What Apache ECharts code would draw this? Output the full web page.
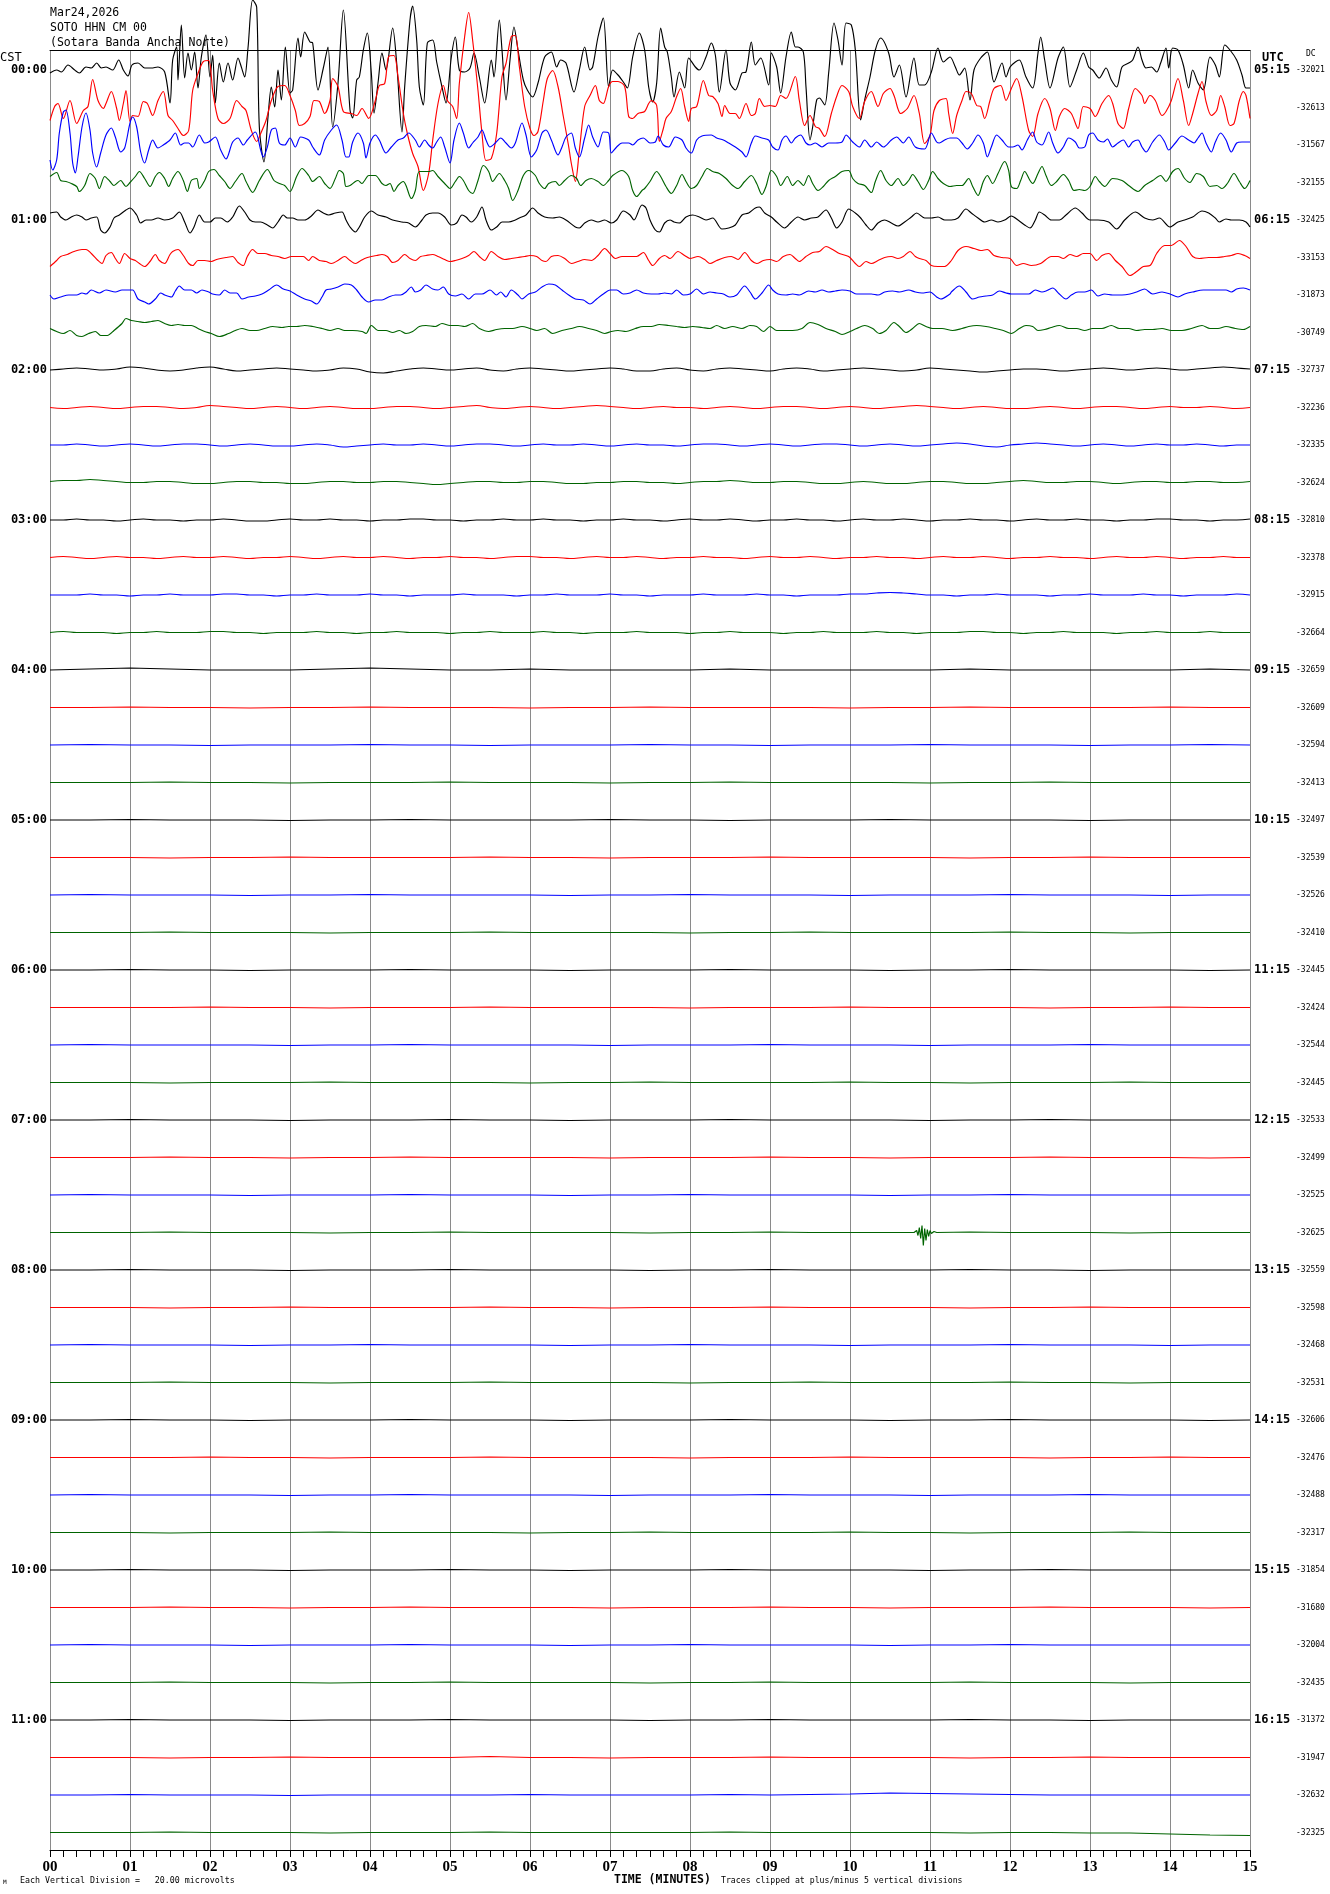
<!DOCTYPE html>
<html><head><meta charset="utf-8">
<script src="https://cdn.jsdelivr.net/npm/echarts@6/dist/echarts.min.js"></script>
<style>html,body{margin:0;padding:0;background:#fff;}#c{width:1330px;height:1894px;}</style>
</head><body><div id="c"></div><script>
// ---------------- DATA ----------------
const STATION_DATE = "Mar24,2026";
const STATION_CODE = "SOTO HHN CM 00";
const STATION_NAME = "(Sotara Banda Ancha Norte)";
const CST_LABELS = ["00:00","01:00","02:00","03:00","04:00","05:00","06:00","07:00","08:00","09:00","10:00","11:00"];
const UTC_LABELS = ["05:15","06:15","07:15","08:15","09:15","10:15","11:15","12:15","13:15","14:15","15:15","16:15"];
const MINUTE_LABELS = ["00","01","02","03","04","05","06","07","08","09","10","11","12","13","14","15"];
const DC_VALUES = [-32021,-32613,-31567,-32155,-32425,-33153,-31873,-30749,-32737,-32236,-32335,-32624,
  -32810,-32378,-32915,-32664,-32659,-32609,-32594,-32413,-32497,-32539,-32526,-32410,
  -32445,-32424,-32544,-32445,-32533,-32499,-32525,-32625,-32559,-32598,-32468,-32531,
  -32606,-32476,-32488,-32317,-31854,-31680,-32004,-32435,-31372,-31947,-32632,-32325];

// Active rows: flat [second, amplitude, second, amplitude, ...]; amplitude positive = up
const row00 = [0,-3,5,0,8.5,-2,13.5,5,18.5,0,22,-3,27,3,31,2,35,7,38.5,2,42,3,47,0,51.5,10,55,0,58.5,-6,61.5,5,66,7,71,2,76,2,81,3,86,-2,90,-33,92,10,95,23,96,-10,98.5,45,101,-8,103.5,17,106,0,108.5,18,111,-18,113.5,13,117,35,120,-7,122,15,124,-33,127,7,130,-12,133.5,7,137,-10,141,12,143.5,3,146,-7,148.5,22,152,70,155,63,157,-57,160.5,-92,163.5,-47,166,-17,168.5,-37,171,0,173.5,-30,176.5,23,180,-23,182,-20,186,32,188,13,191,38,195,28,197,27,201,-20,205,2,208.5,23,212,-57,216,-13,220,60,
 225,-40,227,-48,230,-10,232,-7,235,20,238,37,241,-3,243,-43,246,-13,249,17,252,0,257,42,260,7,264,-62,266,-17,270,50,272,64,275,30,277,-17,280,-35,283,27,287,30,290,8,294,-17,297,-33,301,13,304,33,307,0,311,-2,315,2,318,17,322,-7,326,-33,331,10,333,-7,337,50,339,20,342,-30,345,10,348,43,351,20,355,-10,358,-20,362,-27,366,-13,371,13,376,18,380,3,383,10,387,7,393,-22,397,0,401,23,405,0,407,3,411,33,415,52,419,-17,422,0,426,-5,430,-12,433,-18,437,13,442,37,446,20,
 449,-17,452,-32,455,-13,458,42,461,23,463,18,466,-7,468,-27,472,-2,476,-18,479,12,484,3,487,0,492,13,496,27,499,15,502,-22,507,20,510,-13,514,-20,519,-3,522,-2,526,28,529,5,533,12,539,-15,541,17,545,3,548,-23,552,13,556,38,559,23,561,23,565,18,567,-17,570,-70,572,-57,575,-30,577,-28,581,-35,584,-3,588,47,591,30,594,5,597,47,601,45,604,20,608,-50,611,-30,615,-7,619,20,623,32,629,17,633,-7,637,5,642,-27,648,12,652,-15,656,-15,661,-2,666,22,670,8,
 675,13,679,3,682,-5,686,2,690,-30,693,0,698,12,703,18,708,-12,714,7,717,-7,720,3,724,8,727,10,732,-7,737,-18,741,17,743,33,746,10,750,-18,756,12,760,23,765,-17,770,0,775,17,779,3,782,0,787,-8,792,2,796,-10,800,-17,804,3,809,7,812,10,816,23,819,10,822,2,826,3,830,-2,833,7,837,22,839,2,842,22,846,20,850,5,854,-18,857,0,861,-13,865,-20,870,13,874,5,877,-7,881,25,885,20,890,10,894,-5,897,-18,900,-18];
const row01 = [0,-13,3.5,1,6,4,10,-11,15,7,20,-16,25,-3,28.5,1,32,28,36,7,40,-1,42,4,46,16,50,-1,52,-13,55,4,57,17,60,-14,62,-8,66,-9,70,6,73,4,77,-8,81,7,85,16,88.5,-8,92,-13,96,-21,100,-28,104,-23,107,17,111,34,115,46,119,47,122,17,126,-11,130,-16,135,-11,140,7,144,1,147,-3,151,-23,155,-34,158,-26,162,-13,166,7,171,21,176,22,180,12,184,-3,187,-18,191,-16,195,-9,198,7,202,6,206,-6,210,7,212,29,216,21,220,-4,
 226,-6,230,-8,234,-1,239,-11,244,7,247,22,251,24,254,51,258,52,261,31,265,-6,268,-26,272,-46,276,-59,280,-83,284,-66,287,-33,291,4,295,22,298,7,302,1,305,-11,307,24,311,71,314,95,317,67,321,17,324,-26,327,-53,331,-51,335,-26,339,31,342,44,346,71,349,72,352,41,356,1,360,-21,363,-28,366,-24,370,7,373,29,377,37,381,21,385,-9,389,-39,391,-56,394,-74,397,-43,401,1,405,12,409,22,412,7,415,4,419,21,422,26,426,26,431,21,434,-9,437,-11,441,-6,446,-4,
 449,4,451,7,455,2,457,-34,460,-21,462,-11,466,-4,470,11,473,19,476,1,479,-14,481,-1,485,1,490,27,494,12,497,11,501,4,504,-9,506,2,510,-6,514,-6,517,-11,522,4,526,-8,529,-6,532,9,536,1,540,2,544,1,548,12,552,9,559,31,562,7,566,-18,570,-8,574,-19,577,-21,581,-29,586,-6,590,11,594,22,599,16,602,1,607,-11,611,6,616,16,621,1,625,14,630,19,633,12,638,-6,643,-1,648,12,652,-6,656,-36,660,-28,663,-3,667,7,672,9,
 674,-6,677,-26,680,-8,684,7,687,16,691,14,695,2,698,1,701,-11,705,7,708,19,713,22,717,7,721,19,725,29,729,11,734,-23,737,-29,741,-6,746,9,750,-1,754,-23,757,-9,761,-1,766,-6,771,-21,775,1,780,-1,784,-9,789,4,794,12,797,4,801,-16,805,-21,809,-1,814,19,819,12,821,4,825,12,829,7,834,-8,837,-4,841,7,846,29,850,7,854,-18,857,-6,861,14,864,26,867,6,871,-8,875,-3,878,12,881,1,885,-18,888,-16,892,7,895,16,897,12,900,-11];
const row02 = [0,-15,2,-25,5,-15,7,12,10,33,12,35,15,12,17,-18,19,-28,21,-12,24,18,27,32,30,15,32,-8,35,-22,38,-8,42,10,46,17,49,8,53,-7,56,-3,60,22,62,28,65,18,68,-7,71,-18,74,-5,77,5,81,-3,85,0,90,5,94,12,98,0,101,2,104,2,107,-2,112,10,116,2,119,3,124,8,128,-5,132,-14,137,3,141,7,145,0,148,5,154,13,158,-5,160,-12,163,-2,166,15,169,17,172,2,176,0,180,7,184,-2,188,8,194,5,197,-2,202,-10,206,5,211,15,215,20,219,5,222,-12,
 224,-12,227,3,231,12,235,2,237,-13,240,2,244,10,247,5,252,-8,256,-2,261,5,265,7,269,12,274,5,277,-2,281,5,284,0,287,-3,290,3,293,8,296,-2,300,-18,303,5,307,22,310,12,314,-3,317,2,321,8,324,15,327,5,330,-2,334,2,338,7,342,2,346,-3,349,2,354,22,357,10,361,-12,365,-5,369,12,372,15,376,5,381,-10,384,-2,387,8,391,12,394,-3,397,-12,401,7,404,20,407,8,411,-2,415,13,419,12,421,-8,425,-2,429,2,434,2,437,0,441,5,445,7,
 450,2,454,3,456,9,460,0,464,-2,469,8,474,5,477,-3,481,-8,485,5,489,9,496,10,500,7,505,5,509,2,514,-2,519,-7,522,-12,526,2,529,9,534,7,539,5,542,-2,546,-5,549,5,552,9,556,2,559,7,563,10,567,2,570,0,574,2,579,-2,584,2,589,2,594,3,597,10,602,3,607,-2,611,5,616,-2,620,3,625,-2,631,5,635,8,640,2,644,8,649,-2,656,-4,661,12,665,3,667,2,671,5,
 675,7,680,7,684,2,688,-4,692,2,696,10,700,2,703,-12,706,-2,710,10,714,5,719,-2,722,-2,726,0,729,-5,733,5,737,13,740,3,744,0,749,13,752,2,756,-8,760,-2,764,7,769,3,772,-3,776,-2,779,10,782,12,786,5,790,3,793,6,797,-2,801,2,805,5,809,-2,812,3,816,5,819,-2,822,-7,827,3,832,10,836,3,839,-5,844,2,849,9,854,5,858,2,861,7,864,12,867,2,871,-7,874,3,878,12,882,5,886,-7,890,2,894,3,900,3];
const row03 = [0,6,5,10,8,2,12,1,16,-1,20,-4,22,-9,26,-3,30,9,34,4,37,-6,41,6,45,1,48,-3,53,2,57,-4,60,0,64,6,67,11,71,4,75,-4,79,6,82,10,86,4,89,-4,92,4,96,11,100,2,103,-9,106,2,110,4,112,-6,116,2,119,11,123,13,127,7,131,1,135,-6,139,1,144,9,147,1,152,-10,157,2,163,13,168,2,172,-1,176,-3,180,-9,185,6,189,14,194,7,197,1,202,6,206,-1,210,-6,214,4,217,12,220,9,222,-4,
 225,-3,229,1,231,2,234,-1,236,2,239,7,244,7,249,-1,252,-3,255,-1,258,-9,261,-3,265,1,267,-3,271,-16,274,-8,277,11,284,11,287,12,291,6,296,-1,300,-6,304,1,307,6,310,2,314,-8,317,-11,321,2,325,17,329,11,332,1,337,9,341,2,344,-6,347,-18,351,-8,355,7,359,12,364,7,367,-1,371,-6,374,-1,379,1,382,-3,386,2,391,7,395,4,398,-3,402,2,406,4,411,1,415,-3,419,2,422,7,429,12,434,6,437,-8,440,-14,444,-8,
 446,-6,450,1,455,11,458,6,462,-4,466,-11,470,-3,474,8,477,1,481,-6,485,-3,489,6,493,14,497,11,502,9,507,4,512,-3,516,-6,521,1,526,7,530,-1,534,-12,537,-4,541,12,545,6,548,-3,553,6,557,-3,561,2,565,-3,569,7,572,-1,576,-8,580,-4,584,2,589,6,594,11,599,12,602,4,606,-1,611,-3,616,-10,619,1,623,12,627,2,631,-3,636,4,640,-3,644,2,647,8,651,1,655,-7,659,2,662,11,666,4,670,-1,
 675,-4,680,-3,684,-3,689,4,692,-4,696,-13,700,1,703,7,707,-1,711,9,716,21,719,12,721,-4,725,-6,728,2,731,11,735,2,737,-1,741,9,744,16,747,7,751,-3,755,1,760,8,764,2,768,-8,772,-7,776,-8,780,-4,784,6,787,1,791,-4,797,4,804,2,809,-3,816,-9,821,-3,827,2,833,7,837,1,842,11,846,14,851,4,855,0,860,9,865,6,870,-4,875,-3,879,-6,883,-1,888,9,892,1,896,-6,900,2];
const row04 = [0,7,5,8,8,3,12,0,16,3,20,5,24,3,27,0,31,2,35,3,38,-10,41,-13,45,-7,48,2,52,5,57,10,60,12,65,5,68,-3,72,0,76,0,81,2,86,0,92,2,97,8,101,-2,105,-13,108,-7,112,5,116,-2,120,-2,124,2,128,2,133,-2,137,3,142,14,146,8,150,0,154,-2,158,-2,163,-5,167,-8,171,-2,175,5,178,2,182,2,186,0,191,0,196,4,201,10,205,7,209,5,214,7,219,8,222,0,
 225,-7,229,-12,232,-7,236,3,241,9,246,5,252,3,257,0,264,-2,269,-3,274,-7,279,0,282,5,287,7,291,7,296,3,301,-5,305,-3,309,5,312,3,316,-2,320,3,324,13,327,0,331,-10,335,-7,339,-2,344,-2,349,0,352,2,357,5,362,12,366,7,371,3,377,2,382,3,387,0,394,-7,397,-8,401,-3,406,0,411,-2,416,0,421,-3,425,0,430,9,435,5,438,0,444,15,447,12,
 450,0,454,-10,457,-12,461,-3,465,0,468,-2,472,-3,477,3,482,5,487,3,492,0,497,2,504,-9,509,-8,514,-5,519,5,524,7,529,12,532,13,536,7,541,3,545,-2,551,-8,556,-2,561,3,566,0,571,2,576,3,582,10,586,2,590,-8,594,-2,599,11,604,7,608,2,612,-5,616,-10,621,-3,626,0,631,-3,636,-6,641,-2,646,3,650,7,656,2,661,2,666,3,671,0,
 676,0,681,2,687,11,691,7,696,2,701,-2,706,0,711,-2,716,0,721,4,726,0,731,-5,735,-8,739,0,742,8,746,5,751,0,757,0,762,5,769,12,774,7,780,0,786,0,794,-2,800,-9,806,0,814,8,821,2,827,0,832,2,840,-7,846,-2,851,0,857,3,864,9,869,7,874,2,877,-2,882,1,886,0,892,0,897,-2,900,-7];
const row05 = [0,-9,5,-3,8,1,13,3,18,6,24,8,27,8,31,4,36,-3,39,-6,42,2,46,5,49,-1,52,-6,56,4,60,-1,64,-3,67,-6,71,-9,75,-4,79,3,82,-3,86,-6,90,3,92,6,96,8,100,2,104,-6,107,-8,111,-3,116,-3,121,-4,125,-2,128,-1,132,0,137,1,141,-5,145,-8,148,1,152,8,156,4,161,4,166,2,171,1,176,-1,181,1,185,1,190,1,194,-3,197,1,202,-3,207,-4,211,-6,216,-3,221,1,
 225,-3,229,-6,232,-4,236,-1,241,1,245,2,249,3,253,1,257,-5,261,-3,266,3,270,-1,274,-3,278,1,282,2,287,3,291,1,296,-2,300,-4,304,-3,309,-1,314,2,318,6,322,1,326,-3,331,6,336,1,341,-2,346,-1,351,0,356,1,360,2,365,1,369,-3,372,-4,376,1,381,2,386,-1,391,-6,396,-4,401,-2,406,-3,411,2,416,9,420,4,424,-1,429,1,435,1,440,1,445,5,
 449,-3,452,-8,457,-1,461,2,465,-1,471,6,476,2,480,-1,486,1,491,-2,495,-6,500,-3,506,0,511,1,516,-2,521,5,526,-3,530,-6,535,-3,540,-2,545,-4,550,1,555,3,559,-1,562,-4,567,1,572,5,577,6,582,11,587,8,592,4,599,1,604,-6,607,-9,612,-4,616,-6,621,-3,626,0,631,1,636,-1,640,1,645,6,649,1,652,-1,657,-3,661,-8,666,-9,671,-9,
 676,-3,681,7,687,11,693,9,698,7,703,8,708,2,714,0,720,-1,725,-8,730,-6,736,-8,743,-6,751,1,756,1,760,-1,765,3,770,1,775,4,780,4,785,-3,789,2,794,4,799,-3,804,-9,810,-18,815,-14,820,-9,825,-8,830,4,836,12,841,12,847,17,852,11,857,1,862,-1,869,0,875,0,881,1,886,2,891,4,896,2,900,-1];
const row06 = [0,0,3,-4,8,-2,14,0,20,0,24,2,27,1,31,5,37,2,42,5,49,3,54,5,58,5,62,5,66,-4,71,-7,74,-9,79,-4,83,2,86,0,91,-2,94,4,97,9,101,5,106,5,110,2,114,5,119,3,122,1,127,0,131,5,135,2,140,2,144,-4,149,-2,154,-1,159,1,164,5,170,10,175,6,180,4,185,0,191,-4,196,-6,200,-9,204,-2,207,5,211,6,216,8,221,11,
 226,10,230,5,234,-2,239,-7,244,-5,249,-5,254,-2,259,0,263,0,267,3,271,8,274,3,278,5,282,10,287,6,291,5,295,8,299,1,304,-1,309,1,314,-4,319,1,324,1,330,5,335,0,338,3,342,-2,346,5,351,0,354,-4,359,1,364,3,369,8,374,11,379,10,384,5,389,0,394,-4,400,-5,405,-9,410,-4,415,1,420,5,425,5,430,1,435,2,440,5,445,2,
 451,1,456,1,461,2,466,1,470,5,475,0,480,1,485,6,490,1,495,3,500,2,505,1,510,-2,515,0,521,9,525,3,529,-4,534,2,539,10,542,5,546,1,552,0,557,1,562,0,569,4,574,3,579,5,584,3,589,4,594,5,600,4,605,1,611,1,616,1,621,0,626,3,632,4,637,3,644,5,649,3,654,2,660,3,665,-2,668,-4,675,1,
 676,3,682,9,687,3,692,-4,697,-2,702,-1,707,0,712,4,717,2,721,1,727,1,734,1,739,5,744,3,747,4,752,7,757,1,762,-4,766,0,771,3,776,3,781,5,786,-1,791,1,797,0,804,0,810,1,815,3,821,6,827,1,834,3,840,1,846,-2,851,1,857,3,865,5,871,5,877,5,882,5,886,3,890,6,895,7,900,5];
const row07 = [0,4,5,1,10,-1,15,2,20,-3,24,-4,29,-1,34,1,38,-3,43,-3,48,2,54,9,57,14,61,12,66,11,71,10,76,11,81,12,86,9,91,7,96,8,101,7,106,7,111,4,116,1,121,-1,127,-4,134,-1,139,2,144,4,150,2,155,2,161,4,167,6,174,5,179,6,185,6,191,7,197,6,204,4,210,2,216,4,221,2,
 227,2,234,1,237,-1,241,7,246,2,252,2,257,0,262,2,267,-1,272,1,277,6,282,7,289,6,294,9,300,7,306,7,311,6,317,9,322,4,329,1,335,3,341,4,347,4,354,6,360,4,365,2,371,4,377,-1,384,2,391,4,397,6,404,4,410,2,416,-1,421,1,426,2,432,1,439,4,445,6,
 451,6,457,8,464,7,470,6,476,5,482,6,489,5,495,4,500,7,506,4,512,6,519,4,525,7,530,6,535,1,540,6,545,2,551,2,557,2,564,4,570,10,576,8,582,4,589,1,594,-2,600,1,605,4,611,7,617,4,622,-1,627,2,633,10,637,6,642,0,647,4,652,9,657,6,662,4,669,4,
 677,2,684,4,689,6,695,7,702,6,709,4,715,2,721,-1,727,4,732,7,737,6,741,2,746,3,751,5,757,7,764,4,770,4,776,2,782,4,789,4,796,7,802,4,809,4,815,2,821,3,827,3,834,4,841,2,849,2,856,4,864,7,870,4,876,4,882,6,889,4,895,3,900,6];

// Middle rows: one amplitude every 10 s (0..900 s)
const MID_STEP_SEC = 10;
const row08 = [0,1,2,1,0,1,3,2,0,-1, 0,2,3,1,-1,0,1,2,1,0, -1,0,2,1,-2,-3,-1,1,2,1, 0,1,2,0,-1,1,2,1,0,-1, 0,1,2,1,-1,-1,1,2,0,-1, 1,2,1,0,-1,1,2,1,-1,0, 1,2,1,0,-1,0,2,1,0,-1, -2,-1,0,1,1,0,-1,0,1,2, 1,0,1,2,1,0,1,2,3,2, 1];
const row09 = [0,-1,0,1,0,-1,0,1,1,0, -1,0,2,1,0,-1,0,1,0,-1, 0,1,0,-1,-1,0,1,1,0,-1, 0,1,2,0,-1,0,1,0,-1,0, 1,2,1,0,-1,0,1,0,0,-1, 0,1,0,-1,0,1,1,0,-1,0, 1,0,-1,0,1,2,1,0,-1,0, 1,0,-1,-1,0,1,0,-1,0,1, 1,0,-1,0,1,0,0,1,0,-1, 0];
const row10 = [0,0,1,0,-1,0,1,0,-1,0, 1,1,0,-1,0,1,0,-1,-1,0, 1,0,-2,-1,0,1,0,0,1,0, -1,0,1,1,0,-1,0,1,0,0, 1,0,-1,0,1,0,0,-1,0,1, 1,0,-1,0,1,0,-1,0,1,1, 0,-1,0,1,0,-1,0,1,2,1, -1,-2,0,1,2,1,0,-1,0,1, 0,-1,0,1,0,0,1,0,-1,0, 0];
const row11 = [1,2,2,3,2,1,0,0,1,1, 0,-1,-1,0,1,1,0,0,-1,-1, 0,1,1,0,0,1,1,0,-1,-2, -1,0,1,1,0,0,1,1,0,-1, -1,0,0,1,1,0,0,-1,0,1, 1,2,1,0,0,1,1,0,-1,-1, 0,1,0,-1,-1,0,1,1,0,-1, -1,0,1,2,1,0,0,1,1,0, -1,0,1,1,0,0,1,1,0,0, 1];
const row12 = [0,0,1,0,0,-1,0,1,0,0, -1,0,0,1,0,-1,-1,0,1,0, 0,1,0,0,-1,0,0,1,1,0, 0,-1,0,0,1,0,0,1,0,0, -1,0,0,1,0,0,-1,0,1,0, 0,1,0,-1,0,0,1,0,0,-1, 0,1,0,0,1,0,-1,0,0,1, 0,0,-1,0,1,0,0,1,0,0, -1,0,0,1,1,0,0,-1,0,0, 1];
const row13 = [0,1,0,-1,0,1,0,0,-1,0, 1,0,0,1,0,-1,0,0,1,0, -1,0,1,0,0,1,0,-1,0,0, 1,0,0,-1,0,1,1,0,0,-1, 0,1,0,0,1,0,-1,0,0,1, 0,0,-1,0,1,0,0,1,0,-1, 0,0,1,0,0,-1,0,1,0,0, 1,0,-1,0,0,1,0,0,-1,0, 1,0,0,1,0,-1,0,0,1,0, 0];
const row14 = [0,0,0,1,0,0,-1,0,0,1, 0,0,0,1,1,0,0,-1,0,0, 1,0,0,0,1,0,0,-1,0,0, 0,1,0,0,0,-1,0,0,1,0, 0,0,1,0,0,-1,0,0,0,1, 0,0,0,1,0,0,-1,0,0,0, 1,1,2,2.5,2,1,0,0,-1,0, 0,1,0,0,0,-1,0,0,1,0, 0,0,1,0,0,-1,0,0,0,1, 0];
const row15 = [0,1,0,0,0,-1,0,0,1,0, 0,0,1,1,0,0,-1,0,0,0, 1,0,0,-1,0,0,1,0,0,0, -1,0,0,1,0,0,0,1,0,0, -1,0,0,0,1,0,0,0,-1,0, 0,1,0,0,0,-1,0,0,1,0, 0,0,1,0,0,-1,0,0,0,1, 1,0,0,-1,0,0,1,0,0,0, -1,0,0,1,0,0,0,1,0,0, 0];

// Quiet rows: one amplitude every 30 s (0..900 s)
const QUIET_STEP_SEC = 30;
const row16 = [0,1,2,1,0,0,0,1,2,1,0,0,1,0,0,0,0,1,0,0,0,0,0,1,0,0,0,0,0,1,0];
const row17 = [0,0,0.5,0,0,-0.5,0,0,0.5,0,0,0,-0.5,0,0,0.5,0,0,0,0,-0.5,0,0,0.5,0,0,0,0,0.5,0,0];
const row18 = [0,0.5,0,0,-0.5,0,0,0,0.5,0,0,-0.5,0,0,0,0.5,0,0,-0.5,0,0,0,0.5,0,0,0,-0.5,0,0,0.5,0];
const row19 = [0,0,0,0.5,0,0,-0.5,0,0,0,0.5,0,0,0,-0.5,0,0,0.5,0,0,0,0,-0.5,0,0,0.5,0,0,0,0,0];
const row20 = [0,0,0.5,0,0,0,-0.5,0,0,0.5,0,0,0,0,0.5,0,0,-0.5,0,0,0,0.5,0,0,0,0,-0.5,0,0,0,0];
const row21 = [0,0,0,-0.5,0,0,0.5,0,0,0,0,0.5,0,0,-0.5,0,0,0,0.5,0,0,0,0,-0.5,0,0,0.5,0,0,0,0];
const row22 = [0,0.5,0,0,0,-0.5,0,0,0.5,0,0,0,0,-0.5,0,0,0.5,0,0,0,-0.5,0,0,0,0.5,0,0,0,-0.5,0,0];
const row23 = [0,0,0,0.5,0,0,0,-0.5,0,0,0,0.5,0,0,0,0,-0.5,0,0,0.5,0,0,0,0,0.5,0,0,-0.5,0,0,0];
const row24 = [0,0,0.5,0,0,-0.5,0,0,0,0.5,0,0,0,-0.5,0,0,0,0.5,0,0,0,-0.5,0,0,0.5,0,0,0,0,-0.5,0];
const row25 = [0,0,0,0,0.5,0,0,-0.5,0,0,0,0.5,0,0,0,0,-0.5,0,0,0,0.5,0,0,0,0,-0.5,0,0,0.5,0,0];
const row26 = [0,0.5,0,0,0,0,-0.5,0,0,0.5,0,0,0,0,-0.5,0,0,0,0.5,0,0,0,-0.5,0,0,0,0.5,0,0,0,0];
const row27 = [0,0,0,-0.5,0,0,0,0.5,0,0,0,0,-0.5,0,0,0.5,0,0,0,0,0.5,0,0,-0.5,0,0,0,0.5,0,0,0];
const row28 = [0,0,0.5,0,0,0,-0.5,0,0,0,0.5,0,0,-0.5,0,0,0,0.5,0,0,0,0,-0.5,0,0,0.5,0,0,0,0,0];
const row29 = [0,0,0,0.5,0,0,-0.5,0,0,0.5,0,0,0,0,-0.5,0,0,0,0.5,0,0,-0.5,0,0,0,0.5,0,0,0,-0.5,0];
const row30 = [0,0.5,0,0,0,-0.5,0,0,0,0.5,0,0,0,-0.5,0,0,0.5,0,0,0,0,-0.5,0,0,0.5,0,0,0,0,0,0];
const row31 = [0,0,0,0.5,0,0,0,-0.5,0,0,0.5,0,0,0,0,-0.5,0,0,0.5,0,0,0,0,0.5,0,0,0,-0.5,0,0,0];
const row31Event = [648,0,650,2,651,-3,652,5,653,-6,654,7,655,-13,656,4,657,-8,658,3,659,-4,660,2,661,-1,663,1,665,0];
const row32 = [0,0,0.5,0,0,0,-0.5,0,0,0,0.5,0,0,0,0,-0.5,0,0,0.5,0,0,0,0,0.5,0,0,-0.5,0,0,0,0];
const row33 = [0,0,0,-0.5,0,0,0.5,0,0,0,0,0.5,0,0,-0.5,0,0,0,0.5,0,0,0,0,-0.5,0,0,0.5,0,0,0,0];
const row34 = [0,0.5,0,0,0,-0.5,0,0,0.5,0,0,0,0,-0.5,0,0,0.5,0,0,0,-0.5,0,0,0,0.5,0,0,0,-0.5,0,0];
const row35 = [0,0,0,0.5,0,0,0,-0.5,0,0,0,0.5,0,0,0,0,-0.5,0,0,0.5,0,0,0,0,0.5,0,0,-0.5,0,0,0];
const row36 = [0,0,0.5,0,0,-0.5,0,0,0,0.5,0,0,0,-0.5,0,0,0,0.5,0,0,0,-0.5,0,0,0.5,0,0,0,0,-0.5,0];
const row37 = [0,0,0,0,0.5,0,0,-0.5,0,0,0,0.5,0,0,0,0,-0.5,0,0,0,0.5,0,0,0,0,-0.5,0,0,0.5,0,0];
const row38 = [0,0.5,0,0,0,0,-0.5,0,0,0.5,0,0,0,0,-0.5,0,0,0,0.5,0,0,0,-0.5,0,0,0,0.5,0,0,0,0];
const row39 = [0,0,0,-0.5,0,0,0,0.5,0,0,0,0,-0.5,0,0,0.5,0,0,0,0,0.5,0,0,-0.5,0,0,0,0.5,0,0,0];
const row40 = [0,0,0.5,0,0,0,-0.5,0,0,0,0.5,0,0,-0.5,0,0,0,0.5,0,0,0,0,-0.5,0,0,0.5,0,0,0,0,0];
const row41 = [0,0,0,0.5,0,0,-0.5,0,0,0.5,0,0,0,0,-0.5,0,0,0,0.5,0,0,-0.5,0,0,0,0.5,0,0,0,-0.5,0];
const row42 = [0,0.5,0,0,0,-0.5,0,0,0,0.5,0,0,0,-0.5,0,0,0.5,0,0,0,0,-0.5,0,0,0.5,0,0,0,0,0,0];
const row43 = [0,0,0,0.5,0,0,0,-0.5,0,0,0.5,0,0,0,0,-0.5,0,0,0.5,0,0,0,0,0.5,0,0,0,-0.5,0,0,0];
const row44 = [0,0,0.5,0,0,0,-0.5,0,0,0,0.5,0,0,0,0,-0.5,0,0,0.5,0,0,0,0,0.5,0,0,-0.5,0,0,0,0];
const row45 = [0,0,0,-0.5,0,0,0.5,0,0,0,0,1,0,0,-0.5,0,0,0,0.5,0,0,0,0,-0.5,0,0,0.5,0,0,0,0];
const row46 = [0,0,0.5,0,0,0,-0.5,0,0,0,0,0,0.5,0,0,0,0,0.5,0,0.5,1,2,1.5,1,0.5,0,0,0,0,0,0];
const row47 = [0,0,0,0.5,0,0,0,-0.5,0,0,0,0.5,0,0,0,0,0,0.5,0,0,0,0,0,-0.5,0,0,-0.5,-0.5,-1.5,-2.5,-3];

// ---------------- STYLE / LAYOUT ----------------
const ROW_SPACING_UNITS = 37.5;   // amplitude units per row spacing
const TRACE_COLORS = ['#000000', '#ff0000', '#0000ff', '#006400'];
const MONO = '"DejaVu Sans Mono", "Liberation Mono", monospace';

const activeRows = [row00,row01,row02,row03,row04,row05,row06,row07];
const midRows = [row08,row09,row10,row11,row12,row13,row14,row15];
const quietRows = [row16,row17,row18,row19,row20,row21,row22,row23,
  row24,row25,row26,row27,row28,row29,row30,row31,row32,row33,row34,row35,row36,row37,row38,row39,
  row40,row41,row42,row43,row44,row45,row46,row47];
const ROW_COUNT = activeRows.length + midRows.length + quietRows.length;

function pairsToPoints(row, flat) {
  const out = [];
  for (let i = 0; i < flat.length; i += 2) out.push([flat[i], row - flat[i + 1] / ROW_SPACING_UNITS]);
  return out;
}
function samplesToPoints(row, vals, step) {
  return vals.map((v, i) => [i * step, row - v / ROW_SPACING_UNITS]);
}

const series = [];
for (let r = 0; r < ROW_COUNT; r++) {
  let pts, smooth = false;
  if (r < 8) { pts = pairsToPoints(r, activeRows[r]); smooth = 0.3; }
  else if (r < 16) { pts = samplesToPoints(r, midRows[r - 8], MID_STEP_SEC); smooth = 0.4; }
  else pts = samplesToPoints(r, quietRows[r - 16], QUIET_STEP_SEC);
  if (r === 31) {
    const ev = pairsToPoints(r, row31Event);
    const lo = row31Event[0], hi = row31Event[row31Event.length - 2];
    pts = pts.filter(p => p[0] < lo || p[0] > hi).concat(ev).sort((a, b) => a[0] - b[0]);
  }
  series.push({
    type: 'line', data: pts, showSymbol: false, symbol: 'none', clip: false, silent: true,
    smooth: smooth, xAxisIndex: 0, yAxisIndex: 0, animation: false,
    lineStyle: { color: TRACE_COLORS[r % 4], width: 1.15 }
  });
}

const hourRows = CST_LABELS.map((_, i) => i * 4);
const allRows = DC_VALUES.map((_, i) => i);
// grid is 1800 px tall = 48 row spacings; first baseline 20 px below the top border
const Y_MIN = -20 / ROW_SPACING_UNITS, Y_MAX = Y_MIN + 48;

const chart = echarts.init(document.getElementById('c'), null, { renderer: 'canvas' });
chart.setOption({
  animation: false,
  backgroundColor: '#ffffff',
  grid: { left: 50, top: 50, width: 1200, height: 1800, containLabel: false },
  xAxis: [
    { type: 'value', min: 0, max: 900, interval: 60, position: 'bottom',
      axisLine: { show: true, onZero: false, lineStyle: { color: '#000', width: 1 } },
      axisTick: { show: true, inside: false, length: 7, lineStyle: { color: '#000' } },
      minorTick: { show: true, splitNumber: 6, length: 7, lineStyle: { color: '#000' } },
      splitLine: { show: true, lineStyle: { color: '#8a8a8a', width: 1 } },
      axisLabel: { margin: 10, color: '#000', fontFamily: '"Liberation Serif", serif', fontWeight: 'bold', fontSize: 15,
        formatter: v => MINUTE_LABELS[Math.round(v / 60)] } },
    { type: 'value', min: 0, max: 900, position: 'top',
      axisLine: { show: true, onZero: false, lineStyle: { color: '#000', width: 1 } },
      axisTick: { show: false }, axisLabel: { show: false }, splitLine: { show: false } }
  ],
  yAxis: [
    { type: 'value', min: Y_MIN, max: Y_MAX, inverse: true, position: 'left',
      axisLine: { show: false }, axisTick: { show: false }, splitLine: { show: false },
      axisLabel: { customValues: hourRows, margin: 3, color: '#000', fontFamily: MONO, fontWeight: 'bold', fontSize: 12,
        formatter: v => CST_LABELS[Math.round(v / 4)] } },
    { type: 'value', min: Y_MIN, max: Y_MAX, inverse: true, position: 'right',
      axisLine: { show: false }, axisTick: { show: false }, splitLine: { show: false },
      axisLabel: { customValues: hourRows, margin: 4, color: '#000', fontFamily: MONO, fontWeight: 'bold', fontSize: 12,
        formatter: v => UTC_LABELS[Math.round(v / 4)] } },
    { type: 'value', min: Y_MIN, max: Y_MAX, inverse: true, position: 'right', offset: 46,
      axisLine: { show: false }, axisTick: { show: false }, splitLine: { show: false },
      axisLabel: { customValues: allRows, margin: 0, color: '#000', fontFamily: MONO, fontSize: 8,
        formatter: v => String(DC_VALUES[Math.round(v)]) } }
  ],
  graphic: [
    { type: 'text', left: 50, top: 7, style: { text: STATION_DATE, font: '11.5px ' + MONO, fill: '#000' } },
    { type: 'text', left: 50, top: 22, style: { text: STATION_CODE, font: '11.5px ' + MONO, fill: '#000' } },
    { type: 'text', left: 50, top: 37, style: { text: STATION_NAME, font: '11.5px ' + MONO, fill: '#000' } },
    { type: 'text', left: 0, top: 52, style: { text: 'CST', font: '12px ' + MONO, fill: '#000' } },
    { type: 'text', left: 1262, top: 52, style: { text: 'UTC', font: 'bold 12px ' + MONO, fill: '#000' } },
    { type: 'text', left: 1306, top: 50, style: { text: 'DC', font: '8px ' + MONO, fill: '#000' } },
    { type: 'text', left: 3, top: 1879, style: { text: 'M', font: '6px ' + MONO, fill: '#000' } },
    { type: 'text', left: 20, top: 1877, style: { text: 'Each Vertical Division =   20.00 microvolts', font: '8.3px ' + MONO, fill: '#000' } },
    { type: 'text', left: 614, top: 1874, style: { text: 'TIME (MINUTES)', font: 'bold 11.5px ' + MONO, fill: '#000' } },
    { type: 'text', left: 721, top: 1877, style: { text: 'Traces clipped at plus/minus 5 vertical divisions', font: '8.2px ' + MONO, fill: '#000' } }
  ],
  series: series
});
</script></body></html>
